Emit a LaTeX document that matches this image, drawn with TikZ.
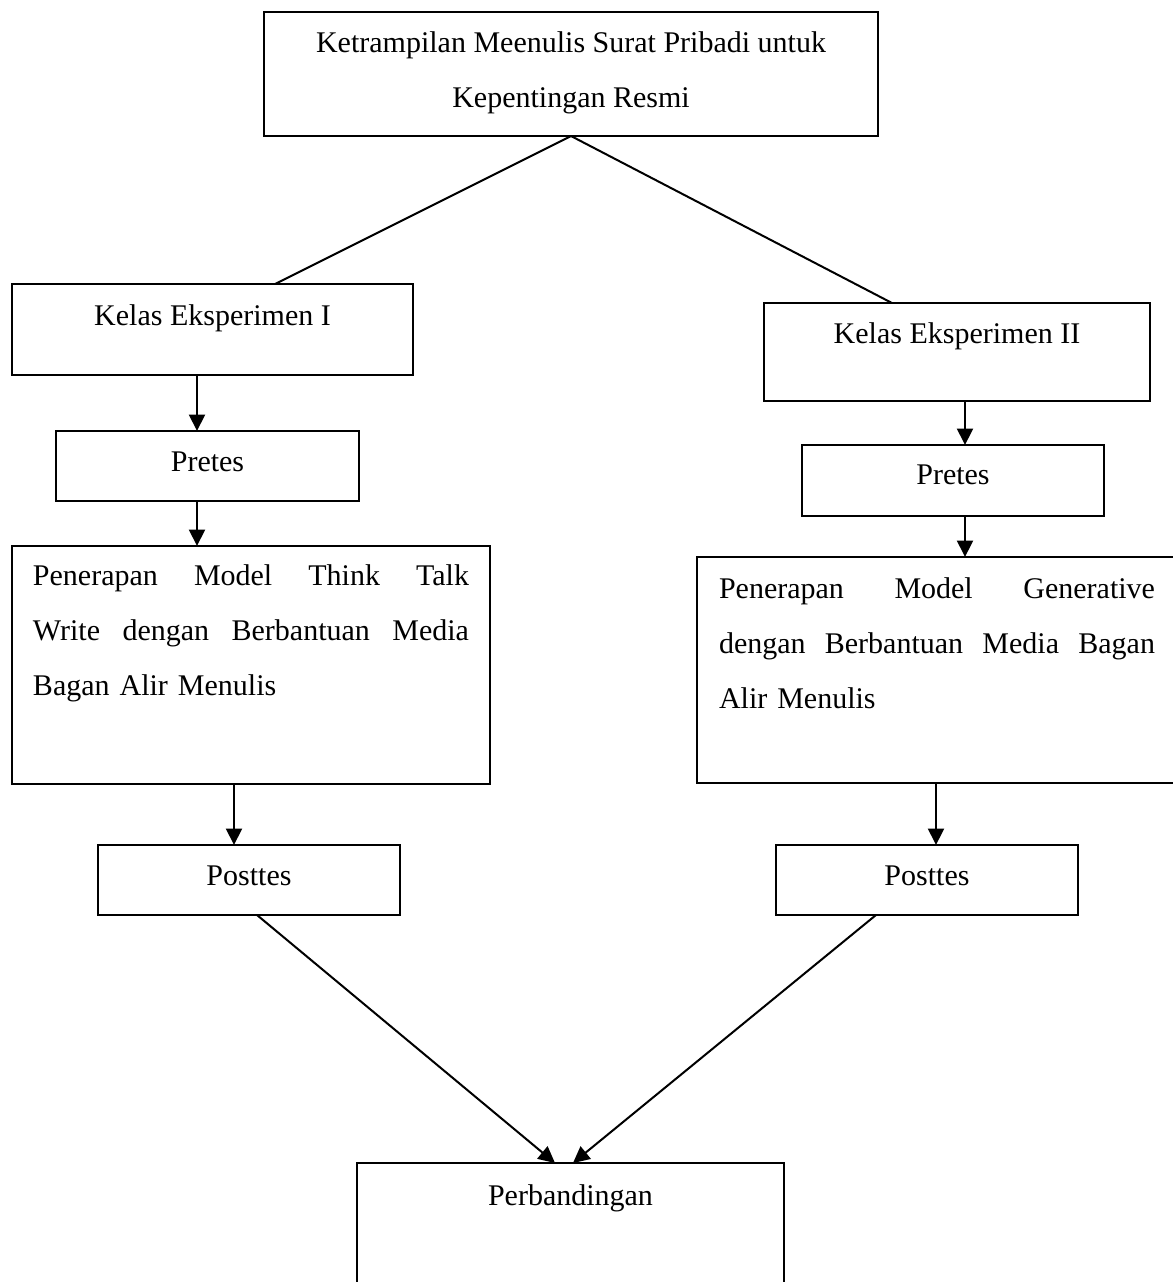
\documentclass[tikz,border=0pt]{standalone}
\usepackage{fontspec}
\setmainfont{Liberation Serif}
\setlength\parindent{0pt}
\usetikzlibrary{arrows.meta,positioning,calc}

\begin{document}
\begin{tikzpicture}
 [x=0.4pt,y=-0.4pt,line width=0.8pt,>={Triangle[width=6.4pt,length=6.6pt]},
  b/.style={draw,rectangle,inner sep=0pt,outer sep=0pt},
  t/.style={anchor=base,inner sep=0pt,font=\fontsize{12}{22}\selectfont}]
 \clip (0,0) rectangle (1173,1282);
 \node[b,minimum width=245.6pt,minimum height=49.6pt] (top) at (571,74) {};
 \node[b,minimum width=160.4pt,minimum height=36.4pt] (kelasA) at (212.5,329.5) {};
 \node[b,minimum width=154.4pt,minimum height=39.2pt] (kelasB) at (957,352) {};
 \node[b,minimum width=121.2pt,minimum height=28pt] (pretesA) at (207.5,466) {};
 \node[b,minimum width=120.8pt,minimum height=28.4pt] (pretesB) at (953,480.5) {};
 \node[b,minimum width=191.2pt,minimum height=95.2pt] (terapA) at (251,665) {};
 \node[b,minimum width=193.2pt,minimum height=90.4pt] (terapB) at (938.5,670) {};
 \node[b,minimum width=120.8pt,minimum height=28pt] (postA) at (249,880) {};
 \node[b,minimum width=120.8pt,minimum height=28pt] (postB) at (927,880) {};
 \node[b,minimum width=170.8pt,minimum height=54.8pt] (banding) at (570.5,1231.5) {};
 \node[t,align=center] (top-t) at (571,107) {Ketrampilan Meenulis Surat Pribadi untuk\\Kepentingan Resmi};
 \node[t] (kelasA-t) at (212.5,325) {Kelas Eksperimen I};
 \node[t] (kelasB-t) at (957,343) {Kelas Eksperimen II};
 \node[t] (pretesA-t) at (207.5,471) {Pretes};
 \node[t] (pretesB-t) at (953,484) {Pretes};
 \node[t,text width=174.4pt,align=left] (terapA-t) at (251,585)
  {Penerapan\hfill Model\hfill Think\hfill Talk\\Write\hfill dengan\hfill Berbantuan\hfill Media\\Bagan Alir Menulis};
 \node[t,text width=174.4pt,align=left] (terapB-t) at (937,598)
  {Penerapan\hfill Model\hfill Generative\\dengan\hfill Berbantuan\hfill Media\hfill Bagan\\Alir Menulis};
 \node[t] (postA-t) at (249,885) {Posttes};
 \node[t] (postB-t) at (927,885) {Posttes};
 \node[t] (banding-t) at (570.5,1205) {Perbandingan};
 \draw (top.south) -- (kelasA.36);
 \draw (top.south) -- (kelasB.143);
 \draw[->] ([xshift=-6.2pt]kelasA.south) -- ([xshift=-6.2pt]kelasA.south |- pretesA.north);
 \draw[->] ([xshift=-4.2pt]pretesA.south) -- ([xshift=-4.2pt]pretesA.south |- terapA.north);
 \draw[->] ([xshift=-6.8pt]terapA.south) -- ([xshift=-6.8pt]terapA.south |- postA.north);
 \draw[->] ([xshift=3.2pt]kelasB.south) -- ([xshift=3.2pt]kelasB.south |- pretesB.north);
 \draw[->] ([xshift=4.8pt]pretesB.south) -- ([xshift=4.8pt]pretesB.south |- terapB.north);
 \draw[->] ([xshift=-1pt]terapB.south) -- ([xshift=-1pt]terapB.south |- postB.north);
 \draw[->] ([xshift=3.2pt]postA.south) -- ([xshift=-6.2pt]banding.north);
 \draw[->] ([xshift=-20.4pt]postB.south) -- ([xshift=1pt]banding.north);
\end{tikzpicture}
\end{document}
